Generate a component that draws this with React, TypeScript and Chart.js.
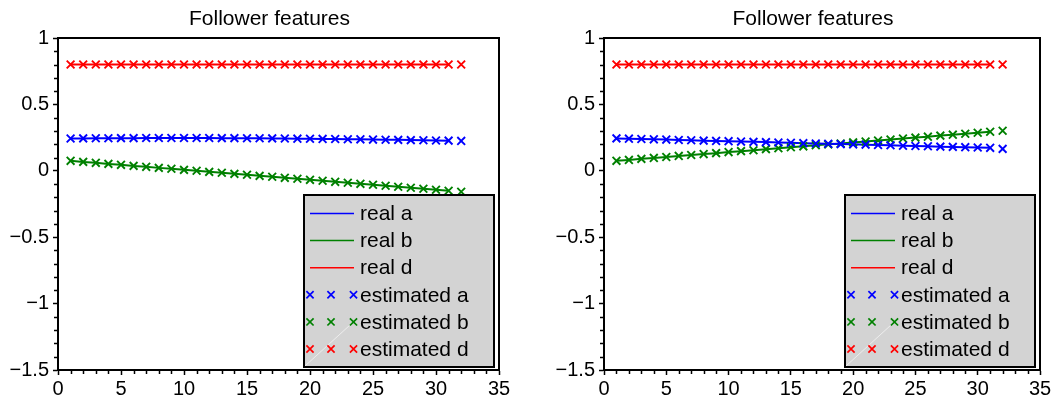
import React, { useEffect, useRef } from "react";
import { Chart, registerables } from "chart.js";

Chart.register(...registerables);

const FONT = "'Liberation Sans', Arial, Helvetica, sans-serif";
const TITLE = "Follower features";
const BLUE = "#0000ff";
const GREEN = "#008000";
const RED = "#ff0000";

const xReal = [1, 2, 3, 4, 5, 6, 7, 8, 9, 10, 11, 12, 13, 14, 15, 16, 17, 18, 19, 20, 21, 22, 23, 24, 25, 26, 27, 28, 29, 30, 31];
const xEst = [1, 2, 3, 4, 5, 6, 7, 8, 9, 10, 11, 12, 13, 14, 15, 16, 17, 18, 19, 20, 21, 22, 23, 24, 25, 26, 27, 28, 29, 30, 31, 32];

const xTicks = [0, 5, 10, 15, 20, 25, 30, 35];
const yTicks = [-1.5, -1, -0.5, 0, 0.5, 1];

// Left panel
const leftRealA = [0.243, 0.244, 0.245, 0.245, 0.246, 0.246, 0.247, 0.247, 0.247, 0.247, 0.247, 0.247, 0.246, 0.246, 0.245, 0.245, 0.244, 0.243, 0.242, 0.241, 0.240, 0.239, 0.238, 0.237, 0.235, 0.234, 0.233, 0.231, 0.230, 0.228, 0.227];
const leftRealB = [0.075, 0.067, 0.060, 0.052, 0.045, 0.037, 0.030, 0.022, 0.015, 0.007, 0.000, -0.008, -0.015, -0.023, -0.030, -0.038, -0.045, -0.053, -0.060, -0.068, -0.075, -0.083, -0.090, -0.098, -0.105, -0.113, -0.120, -0.128, -0.135, -0.143, -0.150];
const leftRealD = [0.8, 0.8, 0.8, 0.8, 0.8, 0.8, 0.8, 0.8, 0.8, 0.8, 0.8, 0.8, 0.8, 0.8, 0.8, 0.8, 0.8, 0.8, 0.8, 0.8, 0.8, 0.8, 0.8, 0.8, 0.8, 0.8, 0.8, 0.8, 0.8, 0.8, 0.8];
const leftEstA = [0.243, 0.244, 0.245, 0.245, 0.246, 0.246, 0.247, 0.247, 0.247, 0.247, 0.247, 0.247, 0.246, 0.246, 0.245, 0.245, 0.244, 0.243, 0.242, 0.241, 0.240, 0.239, 0.238, 0.237, 0.235, 0.234, 0.233, 0.231, 0.230, 0.228, 0.227, 0.225];
const leftEstB = [0.075, 0.067, 0.060, 0.052, 0.045, 0.037, 0.030, 0.022, 0.015, 0.007, 0.000, -0.008, -0.015, -0.023, -0.030, -0.038, -0.045, -0.053, -0.060, -0.068, -0.075, -0.083, -0.090, -0.098, -0.105, -0.113, -0.120, -0.128, -0.135, -0.143, -0.150, -0.158];
const leftEstD = [0.8, 0.8, 0.8, 0.8, 0.8, 0.8, 0.8, 0.8, 0.8, 0.8, 0.8, 0.8, 0.8, 0.8, 0.8, 0.8, 0.8, 0.8, 0.8, 0.8, 0.8, 0.8, 0.8, 0.8, 0.8, 0.8, 0.8, 0.8, 0.8, 0.8, 0.8, 0.8];

// Right panel
const rightRealA = [0.244, 0.242, 0.239, 0.237, 0.235, 0.232, 0.230, 0.227, 0.225, 0.223, 0.220, 0.218, 0.216, 0.213, 0.211, 0.208, 0.206, 0.204, 0.201, 0.199, 0.197, 0.194, 0.192, 0.189, 0.187, 0.185, 0.182, 0.180, 0.178, 0.175, 0.173];
const rightRealB = [0.075, 0.082, 0.090, 0.097, 0.104, 0.112, 0.119, 0.126, 0.133, 0.141, 0.148, 0.155, 0.163, 0.170, 0.177, 0.184, 0.192, 0.199, 0.206, 0.214, 0.221, 0.228, 0.236, 0.243, 0.250, 0.257, 0.265, 0.272, 0.279, 0.287, 0.294];
const rightRealD = [0.8, 0.8, 0.8, 0.8, 0.8, 0.8, 0.8, 0.8, 0.8, 0.8, 0.8, 0.8, 0.8, 0.8, 0.8, 0.8, 0.8, 0.8, 0.8, 0.8, 0.8, 0.8, 0.8, 0.8, 0.8, 0.8, 0.8, 0.8, 0.8, 0.8, 0.8];
const rightEstA = [0.244, 0.242, 0.239, 0.237, 0.235, 0.232, 0.230, 0.227, 0.225, 0.223, 0.220, 0.218, 0.216, 0.213, 0.211, 0.208, 0.206, 0.204, 0.201, 0.199, 0.197, 0.194, 0.192, 0.189, 0.187, 0.185, 0.182, 0.180, 0.178, 0.175, 0.173, 0.165];
const rightEstB = [0.075, 0.082, 0.090, 0.097, 0.104, 0.112, 0.119, 0.126, 0.133, 0.141, 0.148, 0.155, 0.163, 0.170, 0.177, 0.184, 0.192, 0.199, 0.206, 0.214, 0.221, 0.228, 0.236, 0.243, 0.250, 0.257, 0.265, 0.272, 0.279, 0.287, 0.294, 0.302];
const rightEstD = [0.8, 0.8, 0.8, 0.8, 0.8, 0.8, 0.8, 0.8, 0.8, 0.8, 0.8, 0.8, 0.8, 0.8, 0.8, 0.8, 0.8, 0.8, 0.8, 0.8, 0.8, 0.8, 0.8, 0.8, 0.8, 0.8, 0.8, 0.8, 0.8, 0.8, 0.8, 0.8];

const legendLabels = ["real a", "real b", "real d", "estimated a", "estimated b", "estimated d"];
const legendColors = [BLUE, GREEN, RED, BLUE, GREEN, RED];

const pts = (xs: number[], ys: number[]) => ys.map((y, i) => ({ x: xs[i], y }));

const fmt = (v: number) => String(v).replace("-", "\u2212");

const decorPlugin = {
  id: "decor",
  afterDraw(chart: any) {
    const { ctx, chartArea, scales } = chart;
    const { left, right, top, bottom } = chartArea;
    ctx.save();
    // title
    ctx.fillStyle = "#000";
    ctx.font = `21px ${FONT}`;
    ctx.textAlign = "center";
    ctx.textBaseline = "alphabetic";
    ctx.fillText(TITLE, (left + right) / 2 - 9, 25);

    // top & right frame
    ctx.strokeStyle = "#000";
    ctx.lineWidth = 2;
    ctx.beginPath();
    ctx.moveTo(left - 1, top);
    ctx.lineTo(right, top);
    ctx.lineTo(right, bottom + 1);
    ctx.stroke();
    // minor ticks
    ctx.lineWidth = 1.5;
    ctx.beginPath();
    for (let k = -15; k <= 10; k++) {
      if (k % 5 === 0) continue;
      const py = Math.round(scales.y.getPixelForValue(k / 10)) + 0.5;
      ctx.moveTo(left - 4, py);
      ctx.lineTo(left, py);
    }
    for (let k = 0; k <= 35; k++) {
      if (k % 5 === 0) continue;
      const px = Math.round(scales.x.getPixelForValue(k)) + 0.5;
      ctx.moveTo(px, bottom);
      ctx.lineTo(px, bottom + 4);
    }
    ctx.stroke();

    // legend
    const bw = 190;
    const bh = 172;
    const bx = right - 5 - bw;
    const by = bottom - 3 - bh;
    ctx.fillStyle = "#d3d3d3";
    ctx.fillRect(bx, by, bw, bh);
    ctx.strokeStyle = "rgba(240,240,240,0.9)";
    ctx.lineWidth = 1;
    ctx.beginPath();
    ctx.moveTo(bx + 1, by + bh - 1);
    ctx.lineTo(bx + 46, by + bh - 42);
    ctx.stroke();
    ctx.strokeStyle = "#000";
    ctx.lineWidth = 2;
    ctx.strokeRect(bx, by, bw, bh);
    ctx.font = `21px ${FONT}`;
    ctx.textBaseline = "middle";
    ctx.textAlign = "left";
    for (let i = 0; i < legendLabels.length; i++) {
      const cy = by + 18.5 + i * 27.1;
      ctx.strokeStyle = legendColors[i];
      if (i < 3) {
        ctx.lineWidth = 1.5;
        ctx.beginPath();
        ctx.moveTo(bx + 6, cy);
        ctx.lineTo(bx + 50, cy);
        ctx.stroke();
      } else {
        ctx.lineWidth = 1.7;
        const r = 3.6;
        for (const mx of [bx + 6, bx + 27, bx + 49.5]) {
          ctx.beginPath();
          ctx.moveTo(mx - r, cy - r);
          ctx.lineTo(mx + r, cy + r);
          ctx.moveTo(mx - r, cy + r);
          ctx.lineTo(mx + r, cy - r);
          ctx.stroke();
        }
      }
      ctx.fillStyle = "#000";
      ctx.fillText(legendLabels[i], bx + 56, cy + 1);
    }
    ctx.restore();
  },
};

function makeConfig(
  realA: number[], realB: number[], realD: number[],
  estA: number[], estB: number[], estD: number[],
  padLeft: number, padRight: number
): any {
  const lineDs = (label: string, ys: number[], color: string) => ({
    label,
    data: pts(xReal, ys),
    borderColor: color,
    backgroundColor: color,
    borderWidth: 2,
    pointRadius: 0,
    fill: false,
    tension: 0,
    order: 2,
  });
  const estDs = (label: string, ys: number[], color: string) => ({
    label,
    data: pts(xEst, ys),
    showLine: false,
    borderColor: color,
    backgroundColor: color,
    pointStyle: "crossRot",
    pointRadius: 5.5,
    pointBorderWidth: 1.9,
    pointBorderColor: color,
    order: 1,
  });
  return {
    type: "line",
    data: {
      datasets: [
        lineDs(legendLabels[0], realA, BLUE),
        lineDs(legendLabels[1], realB, GREEN),
        lineDs(legendLabels[2], realD, RED),
        estDs(legendLabels[3], estA, BLUE),
        estDs(legendLabels[4], estB, GREEN),
        estDs(legendLabels[5], estD, RED),
      ],
    },
    options: {
      animation: false,
      responsive: false,
      maintainAspectRatio: false,
      events: [],
      layout: { padding: { left: padLeft, right: padRight, top: 38, bottom: 5 } },
      plugins: {
        legend: { display: false },
        tooltip: { enabled: false },
        title: { display: false },
      },
      scales: {
        x: {
          type: "linear",
          min: xTicks[0],
          max: xTicks[xTicks.length - 1],
          afterBuildTicks: (s: any) => { s.ticks = xTicks.map((v) => ({ value: v })); },
          ticks: {
            color: "#000",
            font: { family: FONT, size: 20 },
            padding: 2,
            maxRotation: 0,
            autoSkip: false,
            callback: (v: number) => fmt(v),
          },
          grid: { display: true, drawOnChartArea: false, drawTicks: true, tickLength: 5, tickWidth: 1.5, tickColor: "#000" },
          border: { display: true, color: "#000", width: 2 },
          afterFit: (s: any) => { s.height = 30; s.paddingLeft = 0; s.paddingRight = 0; },
        },
        y: {
          type: "linear",
          min: yTicks[0],
          max: yTicks[yTicks.length - 1],
          afterBuildTicks: (s: any) => { s.ticks = yTicks.map((v) => ({ value: v })); },
          ticks: {
            color: "#000",
            font: { family: FONT, size: 20 },
            padding: 4,
            autoSkip: false,
            callback: (v: number) => fmt(v),
          },
          grid: { display: true, drawOnChartArea: false, drawTicks: true, tickLength: 5, tickWidth: 1.5, tickColor: "#000" },
          border: { display: true, color: "#000", width: 2 },
          afterFit: (s: any) => { s.width = 50; s.paddingTop = 0; s.paddingBottom = 0; },
        },
      },
    },
    plugins: [decorPlugin],
  };
}

function Panel(props: { left: number; width: number; config: any }) {
  const ref = useRef<HTMLCanvasElement | null>(null);
  useEffect(() => {
    if (!ref.current) return;
    const chart = new Chart(ref.current, props.config);
    return () => chart.destroy();
  }, []);
  return (
    <canvas
      ref={ref}
      width={props.width}
      height={405}
      style={{ position: "absolute", left: props.left, top: 0, width: props.width, height: 405 }}
    />
  );
}

export default function App() {
  const leftCfg = makeConfig(leftRealA, leftRealB, leftRealD, leftEstA, leftEstB, leftEstD, 8, 31);
  const rightCfg = makeConfig(rightRealA, rightRealB, rightRealD, rightEstA, rightEstB, rightEstD, 24, 19);
  return (
    <div style={{ position: "absolute", left: 0, top: 0, width: 1059, height: 405, background: "#fff" }}>
      <Panel left={0} width={530} config={leftCfg} />
      <Panel left={530} width={529} config={rightCfg} />
    </div>
  );
}
